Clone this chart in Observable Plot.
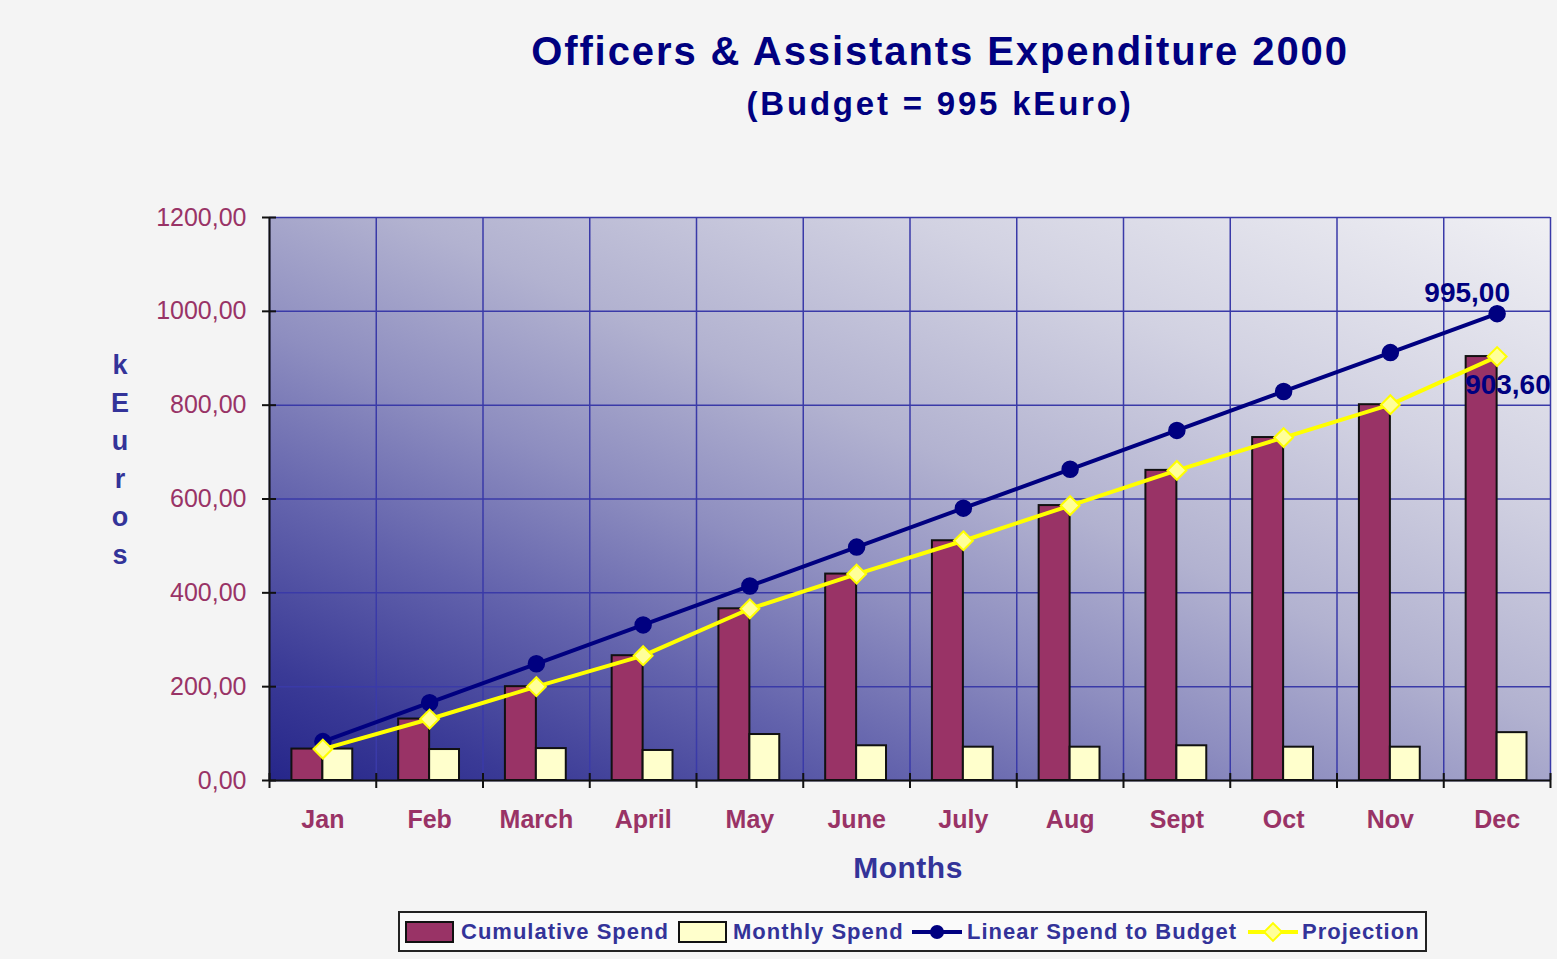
<!DOCTYPE html>
<html>
<head>
<meta charset="utf-8">
<script src="https://cdn.jsdelivr.net/npm/d3@7"></script>
<script src="https://cdn.jsdelivr.net/npm/@observablehq/plot@0.6"></script>
<style>
  html, body { margin: 0; padding: 0; background: #f4f4f4; }
  #wrap { position: relative; width: 1557px; height: 959px; overflow: hidden; background: #f4f4f4;
          font-family: "Liberation Sans", Arial, sans-serif; }
  #wrap > svg.plot { position: absolute; left: 0; top: 0; }
  .title { position: absolute; white-space: nowrap; transform: translateX(-50%); line-height: 1;
           font-weight: bold; color: #000080; }
  #ylab { position: absolute; left: 100px; top: 346px; width: 40px; text-align: center;
          font-weight: bold; font-size: 27px; line-height: 38px; color: #333399; }
  #legend { position: absolute; left: 398px; top: 911px; }
</style>
</head>
<body>
<div id="wrap">
  <div class="title" style="left:940px; top:31px; font-size:40px; letter-spacing:1.9px;">Officers &amp; Assistants Expenditure 2000</div>
  <div class="title" style="left:940px; top:87px; font-size:33px; letter-spacing:2.8px;">(Budget = 995 kEuro)</div>
  <div class="title" style="left:908px; top:853px; font-size:30px; letter-spacing:0.5px; color:#333399;">Months</div>
  <div id="ylab"></div>
</div>
<script>
// ---- data ----
const months = ["Jan", "Feb", "March", "April", "May", "June", "July", "Aug", "Sept", "Oct", "Nov", "Dec"];
const cumulativeSpend = [67, 131, 200, 266, 366, 440, 511, 586, 661, 731, 801, 903.6];
const monthlySpend = [67, 66, 68, 64, 98, 74, 71, 71, 74, 71, 71, 102];
const linearSpend = [82.92, 165.83, 248.75, 331.67, 414.58, 497.50, 580.42, 663.33, 746.25, 829.17, 912.08, 995.00];
const projection = [67, 131, 200, 266, 366, 440, 511, 586, 661, 731, 801, 903.6];
const yTicks = [0, 200, 400, 600, 800, 1000, 1200];
const seriesNames = ["Cumulative Spend", "Monthly Spend", "Linear Spend to Budget", "Projection"];
const yAxisTitle = "kEuros";

const rows = months.map((m, i) => ({
  i, month: m,
  cum: cumulativeSpend[i], mon: monthlySpend[i], lin: linearSpend[i], proj: projection[i]
}));
const boundaries = d3.range(months.length + 1);
const fmt = v => v.toFixed(2).replace(".", ",");

const FONT = '"Liberation Sans", Arial, sans-serif';
const C_CUM = "#993366", C_MON = "#ffffcc", C_LIN = "#000080", C_PROJ = "#ffff00", C_TEXT = "#993366";
const last = rows[rows.length - 1];

const chart = Plot.plot({
  width: 1557,
  height: 959,
  marginLeft: 269,
  marginRight: 7,
  marginTop: 217,
  marginBottom: 179,
  style: { background: "transparent", fontFamily: FONT, overflow: "visible" },
  x: { type: "linear", domain: [0, months.length] },
  y: { domain: [0, 1200] },
  marks: [
    Plot.frame({ fill: "url(#plotBg)", stroke: "none" }),
    Plot.gridY(yTicks, { stroke: "#3a3aa8", strokeOpacity: 1, strokeWidth: 1.5 }),
    Plot.gridX(boundaries, { stroke: "#3a3aa8", strokeOpacity: 1, strokeWidth: 1.5 }),
    // bars
    Plot.rectY(rows, { x1: d => d.i + 0.21, x2: d => d.i + 0.5, y: "cum", fill: C_CUM, stroke: "#111", strokeWidth: 2 }),
    Plot.rectY(rows, { x1: d => d.i + 0.5, x2: d => d.i + 0.78, y: "mon", fill: C_MON, stroke: "#111", strokeWidth: 2 }),
    // linear spend line
    Plot.line(rows, { x: d => d.i + 0.5, y: "lin", stroke: C_LIN, strokeWidth: 4 }),
    Plot.dot(rows, { x: d => d.i + 0.5, y: "lin", r: 8, fill: C_LIN, stroke: C_LIN }),
    // projection line
    Plot.line(rows, { x: d => d.i + 0.5, y: "proj", stroke: C_PROJ, strokeWidth: 4 }),
    Plot.dot(rows, { x: d => d.i + 0.5, y: "proj", symbol: "diamond2", r: 8.5, fill: "#ffff99", stroke: C_PROJ, strokeWidth: 2 }),
    // axes lines
    Plot.ruleX([0], { stroke: "#111", strokeWidth: 2 }),
    Plot.ruleY([0], { stroke: "#111", strokeWidth: 2 }),
    // y axis ticks and labels
    Plot.axisY(yTicks, { tickSize: 14, dx: 7, tickFormat: () => "", stroke: "#111", strokeWidth: 2 }),
    Plot.axisY(yTicks, { tickSize: 0, tickPadding: 23, tickFormat: fmt, fill: C_TEXT, color: C_TEXT, fontSize: 25, fontFamily: FONT }),
    // x axis ticks and labels
    Plot.axisX(boundaries, { tickSize: 15, dy: -7, tickFormat: () => "", stroke: "#111", strokeWidth: 2 }),
    Plot.axisX(rows.map(d => d.i + 0.5), { tickSize: 0, tickPadding: 30, tickFormat: d => months[Math.floor(d)],
      fill: C_TEXT, color: C_TEXT, fontSize: 25, fontWeight: "bold", fontFamily: FONT }),
    // data labels on last points
    Plot.text([last], { x: d => d.i + 0.5, y: "lin", text: d => fmt(d.lin), dx: -30, dy: -21,
      fontSize: 28, fontWeight: "bold", fill: C_LIN, fontFamily: FONT }),
    Plot.text([last], { x: d => d.i + 0.5, y: "proj", text: d => fmt(d.proj), dx: -32, dy: 28, textAnchor: "start",
      fontSize: 28, fontWeight: "bold", fill: C_LIN, fontFamily: FONT })
  ]
});

// gradient background for plot area
const ns = "http://www.w3.org/2000/svg";
const defs = document.createElementNS(ns, "defs");
defs.innerHTML = `<linearGradient id="plotBg" x1="0" y1="1" x2="1" y2="0">
  <stop offset="0" stop-color="#26268a"/>
  <stop offset="0.1" stop-color="#3a3a96"/>
  <stop offset="0.25" stop-color="#6262ac"/>
  <stop offset="0.4" stop-color="#8e8ec0"/>
  <stop offset="0.55" stop-color="#b2b2d0"/>
  <stop offset="0.75" stop-color="#d2d2e2"/>
  <stop offset="1" stop-color="#f0f0f4"/>
</linearGradient>`;
chart.insertBefore(defs, chart.firstChild);
chart.classList.add("plot");
document.getElementById("wrap").appendChild(chart);

// vertical y-axis title
document.getElementById("ylab").innerHTML = yAxisTitle.split("").map(c => `<div>${c}</div>`).join("");

// legend
const lg = d3.select("#wrap").append("svg").attr("id", "legend").attr("width", 1029).attr("height", 41);
lg.append("rect").attr("x", 1).attr("y", 1).attr("width", 1027).attr("height", 39)
  .attr("fill", "#fafafa").attr("stroke", "#222").attr("stroke-width", 2);
const itemX = [8, 281, 514, 850];
const textX = [63, 335, 569, 904];
const swatchFill = [C_CUM, C_MON];
seriesNames.forEach((name, k) => {
  if (k < 2) {
    lg.append("rect").attr("x", itemX[k]).attr("y", 11).attr("width", 47).attr("height", 20)
      .attr("fill", swatchFill[k]).attr("stroke", "#111").attr("stroke-width", 2);
  } else if (k === 2) {
    lg.append("line").attr("x1", itemX[k]).attr("x2", itemX[k] + 50).attr("y1", 21).attr("y2", 21)
      .attr("stroke", C_LIN).attr("stroke-width", 4);
    lg.append("circle").attr("cx", itemX[k] + 25).attr("cy", 21).attr("r", 7).attr("fill", C_LIN);
  } else {
    lg.append("line").attr("x1", itemX[k]).attr("x2", itemX[k] + 50).attr("y1", 21).attr("y2", 21)
      .attr("stroke", C_PROJ).attr("stroke-width", 4);
    lg.append("path").attr("d", d3.symbol(d3.symbolDiamond2, 200)()).attr("transform", `translate(${itemX[k] + 25},21)`)
      .attr("fill", "#ffff99").attr("stroke", C_PROJ).attr("stroke-width", 2);
  }
  lg.append("text").attr("x", textX[k]).attr("y", 28).text(name)
    .attr("font-family", FONT).attr("font-weight", "bold").attr("font-size", 22)
    .attr("letter-spacing", "1px").attr("fill", "#333399");
});
</script>
</body>
</html>
